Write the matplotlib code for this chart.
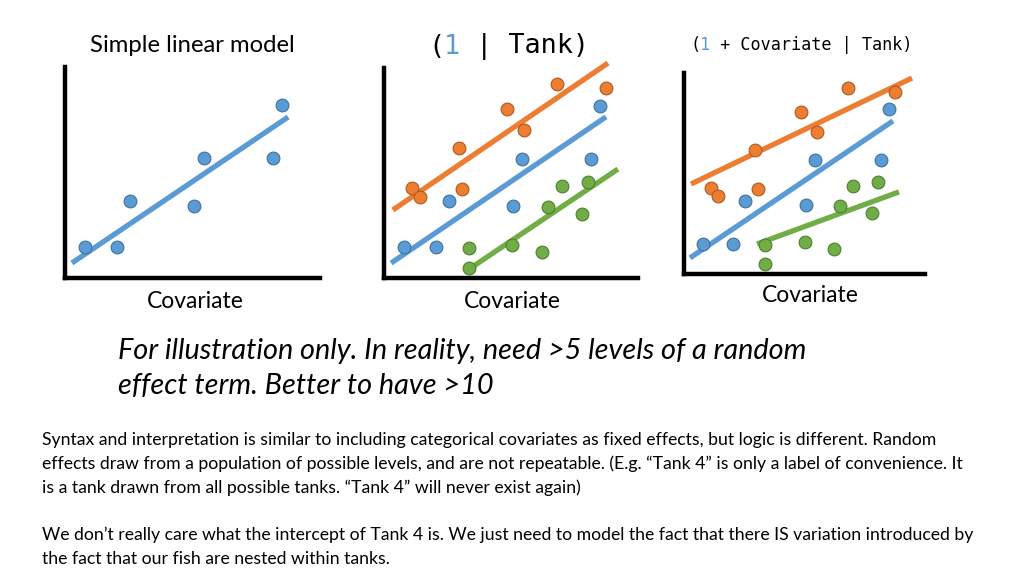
import matplotlib
matplotlib.use('Agg')
import matplotlib.pyplot as plt
from matplotlib.transforms import offset_copy
import numpy as np

blue = '#5B9BD5'
orange = '#ED7D31'
green = '#70AD47'
edge = {blue: '#41719C', orange: '#AE5A21', green: '#507E32'}

# points (covariate, response) in axis units 0..10
blue_x = [0.78, 2.04, 2.55, 5.06, 5.45, 8.16, 8.51]
blue_y = [1.47, 1.47, 3.65, 3.41, 5.69, 5.69, 8.20]
orange_x = [1.10, 1.42, 2.95, 3.07, 4.84, 5.51, 6.81, 8.74]
orange_y = [4.29, 3.86, 6.19, 4.24, 8.05, 7.05, 9.24, 9.05]
green_x = [3.35, 3.35, 5.04, 6.22, 6.46, 7.01, 7.80, 8.03]
green_y = [1.43, 0.48, 1.57, 1.24, 3.38, 4.38, 3.05, 4.57]

# fitted lines: (x start, x end, intercept, slope)
simple_line = (0.27, 8.75, 0.49, 0.816)
tank_lines = {orange: (0.35, 8.82, 2.95, 0.826),
              blue: (0.28, 8.74, 0.48, 0.823),
              green: (3.23, 9.21, -2.30, 0.813)}
slope_lines = {orange: (0.29, 9.46, 4.31, 0.575),
               blue: (0.25, 8.67, 0.60, 0.809),
               green: (3.03, 8.92, 0.16, 0.44)}

body_lines = [
    "Syntax and interpretation is similar to including categorical covariates as fixed effects, but logic is different. Random",
    "effects draw from a population of possible levels, and are not repeatable. (E.g. \u201cTank 4\u201d is only a label of convenience. It",
    "is a tank drawn from all possible tanks. \u201cTank 4\u201d will never exist again)",
    "",
    "We don\u2019t really care what the intercept of Tank 4 is. We just need to model the fact that there IS variation introduced by",
    "the fact that our fish are nested within tanks.",
]
note_lines = ["For illustration only. In reality, need >5 levels of a random",
              "effect term. Better to have >10"]

W, H = 1024, 576
fig = plt.figure(figsize=(10.24, 5.76), dpi=100)


def panel(box, pts, lines):
    l, t, r, b = box
    ax = fig.add_axes([l / W, 1 - b / H, (r - l) / W, (b - t) / H])
    ax.set_xlim(0, 10)
    ax.set_ylim(0, 10)
    for s in ['top', 'right']:
        ax.spines[s].set_visible(False)
    for s in ['left', 'bottom']:
        ax.spines[s].set_linewidth(3.2)
        ax.spines[s].set_color('black')
    ax.set_xticks([])
    ax.set_yticks([])
    ax.patch.set_alpha(0)
    for c, (x0, x1, a, m) in lines.items():
        xx = np.array([x0, x1])
        ax.plot(xx, a + m * xx, color=c, lw=3.8, solid_capstyle='butt', clip_on=False, zorder=2)
    for c, xs, ys in pts:
        ax.plot(xs, ys, 'o', ms=9.2, color=c, mec=edge[c], mew=0.8, clip_on=False, zorder=3)
    return ax


panel((65, 67, 320, 278), [(blue, blue_x, blue_y)], {blue: simple_line})
panel((384, 68, 638, 278),
      [(orange, orange_x, orange_y), (blue, blue_x, blue_y), (green, green_x, green_y)], tank_lines)
panel((684, 73, 925, 274),
      [(orange, orange_x, orange_y), (blue, blue_x, blue_y), (green, green_x, green_y)], slope_lines)

sans = 'Lato'
mono = 'DejaVu Sans Mono'

fig.text(192 / W, 1 - 46 / H, 'Simple linear model', fontsize=17.2, family=sans, ha='center', va='center')
for cx, cy in [(195, 302), (512, 301), (810, 296)]:
    fig.text(cx / W, 1 - cy / H, 'Covariate', fontsize=16.5, family=sans, ha='center', va='center')


def code_title(x, y, pieces, size):
    # monospace pieces laid side by side, each may have its own colour
    adv = 0.602 * size
    n = 0
    for s, c in pieces:
        tr = offset_copy(fig.transFigure, fig=fig, x=n * adv, y=0, units='points')
        fig.text(x / W, 1 - y / H, s, fontsize=size, family=mono, ha='left', va='center',
                 color=c, transform=tr)
        n += len(s)


code_title(428, 47, [('(', 'black'), ('1', blue), (' | Tank)', 'black')], 19.4)
code_title(690, 45, [('(', 'black'), ('1', blue), (' + Covariate | Tank)', 'black')], 12.1)

for i, s in enumerate(note_lines):
    fig.text(118 / W, 1 - (351 + 35 * i) / H, s, fontsize=20.8, family=sans, style='italic', ha='left', va='center')

for i, s in enumerate(body_lines):
    fig.text(42 / W, 1 - (440 + 23.8 * i) / H, s, fontsize=12.7, family=sans, ha='left', va='center')

fig.savefig('out.png', dpi=100)
